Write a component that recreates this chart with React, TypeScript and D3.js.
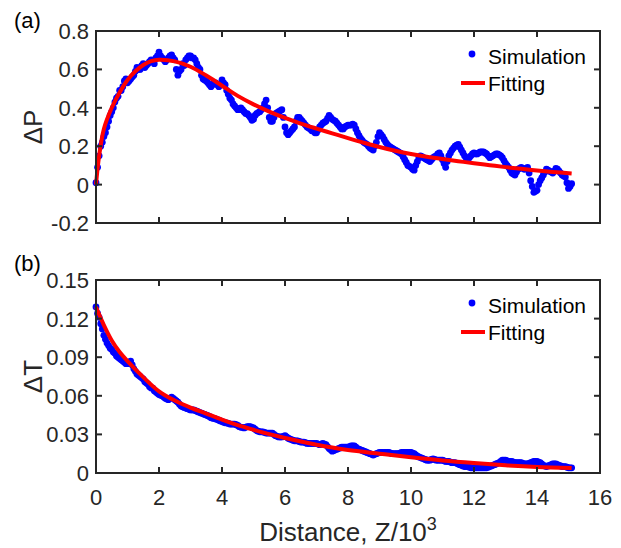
import React from "react";
import * as d3 from "d3";

// ---------- data ----------
// simulation samples at z = 0, 0.1, 0.2 ... and at the mid-steps z = 0.05, 0.15, ...
const zStep = 0.1;
const pSim = [
  0.01, 0.15, 0.22, 0.27, 0.33, 0.38, 0.43, 0.46, 0.49, 0.54,
  0.53, 0.55, 0.57, 0.61, 0.60, 0.63, 0.62, 0.64, 0.64, 0.66,
  0.69, 0.66, 0.64, 0.66, 0.675, 0.65, 0.57, 0.60, 0.62, 0.66,
  0.67, 0.66, 0.63, 0.60, 0.55, 0.54, 0.52, 0.52, 0.53, 0.51,
  0.545, 0.52, 0.47, 0.44, 0.41, 0.39, 0.40, 0.38, 0.37, 0.35,
  0.34, 0.37, 0.38, 0.40, 0.44, 0.35, 0.33, 0.37, 0.38, 0.39,
  0.30, 0.26, 0.28, 0.30, 0.35, 0.34, 0.32, 0.30, 0.29, 0.28,
  0.27, 0.30, 0.32, 0.33, 0.36, 0.34, 0.33, 0.31, 0.29, 0.30,
  0.31, 0.31, 0.31, 0.27, 0.24, 0.22, 0.21, 0.19, 0.18, 0.22,
  0.27, 0.25, 0.22, 0.20, 0.19, 0.18, 0.17, 0.16, 0.13, 0.10,
  0.09, 0.075, 0.12, 0.15, 0.14, 0.13, 0.12, 0.14, 0.15, 0.165,
  0.13, 0.09, 0.15, 0.18, 0.20, 0.21, 0.18, 0.15, 0.13, 0.15,
  0.165, 0.16, 0.17, 0.17, 0.16, 0.14, 0.15, 0.16, 0.155, 0.14,
  0.11, 0.09, 0.06, 0.05, 0.08, 0.09, 0.08, 0.09, 0.02, -0.04,
  -0.03, 0.02, 0.05, 0.08, 0.07, 0.06, 0.085, 0.07, 0.05, 0.04,
  -0.02, 0.005,
];
const pSimMid = [
  0.09, 0.20, 0.25, 0.30, 0.36, 0.40, 0.45, 0.49, 0.51, 0.55,
  0.54, 0.56, 0.59, 0.60, 0.62, 0.61, 0.63, 0.65, 0.63, 0.67,
  0.67, 0.65, 0.65, 0.67, 0.66, 0.60, 0.59, 0.63, 0.65, 0.67,
  0.66, 0.65, 0.61, 0.57, 0.545, 0.53, 0.51, 0.53, 0.52, 0.52,
  0.53, 0.49, 0.45, 0.42, 0.40, 0.39, 0.39, 0.37, 0.36, 0.335,
  0.36, 0.375, 0.39, 0.42, 0.40, 0.33, 0.35, 0.375, 0.385, 0.35,
  0.27, 0.27, 0.29, 0.33, 0.35, 0.33, 0.31, 0.295, 0.28, 0.27,
  0.285, 0.31, 0.325, 0.345, 0.35, 0.335, 0.32, 0.30, 0.29, 0.305,
  0.31, 0.315, 0.29, 0.255, 0.23, 0.215, 0.20, 0.185, 0.20, 0.25,
  0.26, 0.235, 0.21, 0.195, 0.185, 0.175, 0.165, 0.145, 0.115, 0.095,
  0.08, 0.10, 0.14, 0.145, 0.135, 0.125, 0.13, 0.145, 0.16, 0.15,
  0.11, 0.12, 0.165, 0.19, 0.205, 0.195, 0.165, 0.14, 0.14, 0.16,
  0.16, 0.165, 0.17, 0.165, 0.15, 0.145, 0.155, 0.16, 0.15, 0.125,
  0.10, 0.075, 0.055, 0.065, 0.085, 0.085, 0.085, 0.06, -0.01, -0.035,
  0.0, 0.035, 0.065, 0.075, 0.065, 0.07, 0.08, 0.06, 0.045, 0.01,
  -0.01,
];
const pFitZ = [0, 0.1, 0.25, 0.5, 0.75, 1, 1.25, 1.5, 1.75, 2, 2.5, 3, 3.5, 4, 4.5, 5, 5.5, 6, 6.5, 7, 7.5, 8, 8.5, 9, 9.5, 10, 10.5, 11, 11.5, 12, 12.5, 13, 13.5, 14, 14.5, 15.1];
const pFit = [0, 0.15, 0.29, 0.4, 0.48, 0.545, 0.59, 0.623, 0.643, 0.65, 0.642, 0.614, 0.568, 0.515, 0.462, 0.418, 0.38, 0.347, 0.318, 0.292, 0.267, 0.242, 0.218, 0.196, 0.176, 0.159, 0.145, 0.133, 0.122, 0.111, 0.101, 0.091, 0.082, 0.074, 0.066, 0.058];

const tSim = [
  0.129, 0.121, 0.112, 0.104, 0.099, 0.096, 0.093, 0.090, 0.088, 0.086,
  0.085, 0.087, 0.081, 0.077, 0.075, 0.073, 0.070, 0.067, 0.066, 0.063,
  0.061, 0.060, 0.058, 0.057, 0.059, 0.057, 0.055, 0.052, 0.051, 0.050,
  0.049, 0.049, 0.048, 0.047, 0.046, 0.045, 0.044, 0.0425, 0.042, 0.041,
  0.040, 0.039, 0.0385, 0.038, 0.038, 0.037, 0.0355, 0.035, 0.036, 0.036,
  0.035, 0.033, 0.032, 0.032, 0.031, 0.031, 0.031, 0.029, 0.028, 0.028,
  0.029, 0.027, 0.026, 0.025, 0.025, 0.024, 0.024, 0.023, 0.023, 0.023,
  0.023, 0.022, 0.023, 0.022, 0.019, 0.017, 0.018, 0.019, 0.020, 0.020,
  0.020, 0.021, 0.021, 0.019, 0.018, 0.017, 0.016, 0.015, 0.014, 0.015,
  0.016, 0.016, 0.016, 0.016, 0.015, 0.015, 0.015, 0.016, 0.016, 0.016,
  0.016, 0.015, 0.013, 0.012, 0.011, 0.010, 0.010, 0.011, 0.010, 0.010,
  0.010, 0.009, 0.009, 0.008, 0.008, 0.007, 0.006, 0.005, 0.005, 0.004,
  0.004, 0.004, 0.004, 0.004, 0.004, 0.005, 0.006, 0.007, 0.008, 0.010,
  0.010, 0.009, 0.009, 0.008, 0.008, 0.008, 0.007, 0.007, 0.008, 0.009,
  0.009, 0.008, 0.006, 0.005, 0.006, 0.007, 0.007, 0.006, 0.005, 0.005,
  0.004, 0.004,
];
const tSimMid = [
  0.124, 0.116, 0.107, 0.101, 0.097, 0.094, 0.091, 0.089, 0.087, 0.085,
  0.086, 0.084, 0.079, 0.076, 0.074, 0.071, 0.069, 0.066, 0.064, 0.062,
  0.0605, 0.059, 0.0575, 0.058, 0.058, 0.056, 0.0535, 0.0515, 0.0505, 0.0495,
  0.049, 0.0485, 0.0475, 0.0465, 0.0455, 0.0445, 0.043, 0.0425, 0.0415, 0.0405,
  0.0395, 0.039, 0.038, 0.038, 0.0375, 0.036, 0.0355, 0.0355, 0.036, 0.0355,
  0.034, 0.0325, 0.032, 0.0315, 0.031, 0.031, 0.030, 0.0285, 0.028, 0.0285,
  0.028, 0.0265, 0.0255, 0.025, 0.0245, 0.024, 0.0235, 0.023, 0.023, 0.023,
  0.0225, 0.0225, 0.0225, 0.0205, 0.018, 0.0175, 0.0185, 0.0195, 0.020, 0.020,
  0.0205, 0.021, 0.020, 0.0185, 0.0175, 0.0165, 0.0155, 0.0145, 0.0145, 0.0155,
  0.016, 0.016, 0.016, 0.0155, 0.015, 0.015, 0.0155, 0.016, 0.016, 0.016,
  0.0155, 0.014, 0.0125, 0.0115, 0.0105, 0.010, 0.0105, 0.0105, 0.010, 0.010,
  0.0095, 0.009, 0.0085, 0.008, 0.0075, 0.0065, 0.0055, 0.005, 0.0045, 0.004,
  0.004, 0.004, 0.004, 0.004, 0.0045, 0.0055, 0.0065, 0.0075, 0.009, 0.010,
  0.0095, 0.009, 0.0085, 0.008, 0.008, 0.0075, 0.007, 0.0075, 0.0085, 0.009,
  0.0085, 0.007, 0.0055, 0.0055, 0.0065, 0.007, 0.0065, 0.0055, 0.005, 0.0045,
  0.004,
];
const tFitZ = [0, 0.25, 0.5, 0.75, 1, 1.5, 2, 2.5, 3, 3.5, 4, 4.5, 5, 5.5, 6, 6.5, 7, 7.5, 8, 9, 10, 11, 12, 13, 14, 15.1];
const tFit = [0.129, 0.115, 0.103, 0.094, 0.087, 0.0745, 0.0635, 0.0563, 0.0508, 0.0462, 0.0415, 0.0372, 0.0336, 0.0302, 0.0272, 0.0245, 0.022, 0.0198, 0.0179, 0.015, 0.0122, 0.0097, 0.0077, 0.006, 0.0047, 0.0038];

const xTicks = [0, 2, 4, 6, 8, 10, 12, 14, 16];
const pTicks = [-0.2, 0, 0.2, 0.4, 0.6, 0.8];
const pTickLabels = ["-0.2", "0", "0.2", "0.4", "0.6", "0.8"];
const tTicks = [0, 0.03, 0.06, 0.09, 0.12, 0.15];
const tTickLabels = ["0", "0.03", "0.06", "0.09", "0.12", "0.15"];
const legendLabels = ["Simulation", "Fitting"];

const FONT = "'Liberation Sans', Arial, Helvetica, sans-serif";
const AX = "#262626";

type PanelProps = {
  top: number;
  bottom: number;
  yDomain: [number, number];
  yTicks: number[];
  yTickLabels: string[];
  sim: number[];
  simMid: number[];
  fitZ: number[];
  fit: number[];
  showXLabels: boolean;
  yLabel: string;
  tag: string;
  tagY: number;
};

const L = 96, R = 600;

function Panel(p: PanelProps) {
  const x = d3.scaleLinear().domain([0, 16]).range([L, R]);
  const y = d3.scaleLinear().domain(p.yDomain).range([p.bottom, p.top]);
  const line = d3
    .line<number>()
    .x((_, i) => x(p.fitZ[i]))
    .y((d) => y(d))
    .curve(d3.curveCatmullRom.alpha(0.5));
  const tl = 6;
  const midY = (p.top + p.bottom) / 2;
  const dots = [
    ...p.sim.map((v, i) => [i * zStep, v]),
    ...p.simMid.map((v, i) => [(i + 0.5) * zStep, v]),
  ];
  return (
    <g>
      <clipPath id={"clip" + p.tag}>
        <rect x={L} y={p.top} width={R - L} height={p.bottom - p.top} />
      </clipPath>
      <g clipPath={`url(#clip${p.tag})`}>
        {dots.map((d, i) => (
          <circle key={i} cx={x(d[0])} cy={y(d[1])} r={3.4} fill="#0000ff" />
        ))}
        <path d={line(p.fit) || ""} fill="none" stroke="#ff0000" strokeWidth={4} />
      </g>
      <rect x={L} y={p.top} width={R - L} height={p.bottom - p.top} fill="none" stroke={AX} strokeWidth={2} />
      {xTicks.map((t) => (
        <g key={"x" + t}>
          <line x1={x(t)} x2={x(t)} y1={p.bottom} y2={p.bottom - tl} stroke={AX} strokeWidth={2} />
          <line x1={x(t)} x2={x(t)} y1={p.top} y2={p.top + tl} stroke={AX} strokeWidth={2} />
          {p.showXLabels && (
            <text x={x(t)} y={p.bottom + 32} textAnchor="middle" fontSize={22} fill={AX} fontFamily={FONT}>
              {t}
            </text>
          )}
        </g>
      ))}
      {p.yTicks.map((t, i) => (
        <g key={"y" + t}>
          <line x1={L} x2={L + tl} y1={y(t)} y2={y(t)} stroke={AX} strokeWidth={2} />
          <line x1={R} x2={R - tl} y1={y(t)} y2={y(t)} stroke={AX} strokeWidth={2} />
          <text x={L - 7} y={y(t) + 8} textAnchor="end" fontSize={22} fill={AX} fontFamily={FONT}>
            {p.yTickLabels[i]}
          </text>
        </g>
      ))}
      <text
        transform={`translate(${42},${midY}) rotate(-90)`}
        textAnchor="middle"
        fontSize={26}
        fill={AX}
        fontFamily={FONT}
      >
        {p.yLabel}
      </text>
      <text x={14} y={p.tagY} fontSize={22} fill="#000" fontFamily={FONT}>
        {p.tag}
      </text>
      <circle cx={472} cy={p.top + 23} r={3.4} fill="#0000ff" />
      <text x={488} y={p.top + 33} fontSize={21} fill="#000" fontFamily={FONT}>
        {legendLabels[0]}
      </text>
      <line x1={461} x2={485} y1={p.top + 52} y2={p.top + 52} stroke="#ff0000" strokeWidth={4} />
      <text x={488} y={p.top + 60} fontSize={21} fill="#000" fontFamily={FONT}>
        {legendLabels[1]}
      </text>
    </g>
  );
}

export default function App() {
  return (
    <svg width={621} height={548} style={{ position: "absolute", left: 0, top: 0, background: "#fff" }}>
      <rect width={621} height={548} fill="#fff" />
      <Panel
        top={31}
        bottom={223}
        yDomain={[-0.2, 0.8]}
        yTicks={pTicks}
        yTickLabels={pTickLabels}
        sim={pSim}
        simMid={pSimMid}
        fitZ={pFitZ}
        fit={pFit}
        showXLabels={false}
        yLabel="ΔP"
        tag="(a)"
        tagY={28}
      />
      <Panel
        top={280}
        bottom={473}
        yDomain={[0, 0.15]}
        yTicks={tTicks}
        yTickLabels={tTickLabels}
        sim={tSim}
        simMid={tSimMid}
        fitZ={tFitZ}
        fit={tFit}
        showXLabels={true}
        yLabel="ΔT"
        tag="(b)"
        tagY={271}
      />
      <text x={348} y={541} textAnchor="middle" fontSize={26} fill={AX} fontFamily={FONT}>
        Distance, Z/10
        <tspan dy={-11} fontSize={18}>3</tspan>
      </text>
    </svg>
  );
}
